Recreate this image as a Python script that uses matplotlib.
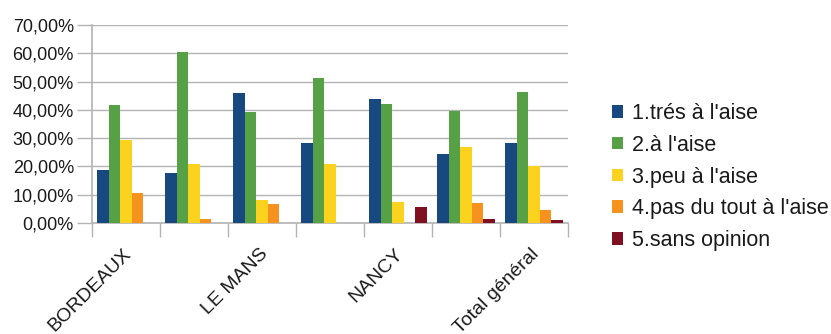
import matplotlib.pyplot as plt
import numpy as np
from matplotlib.ticker import FuncFormatter

plt.rcParams['font.family'] = ['Liberation Sans', 'DejaVu Sans']

# category tick labels (only every other one is shown in the original)
categories = ["BORDEAUX", "", "LE MANS", "", "NANCY", "", "Total général"]
series_names = ["1.trés à l'aise", "2.à l'aise", "3.peu à l'aise",
                "4.pas du tout à l'aise", "5.sans opinion"]

tres_aise = [18.6, 17.6, 45.8, 28.2, 43.7, 24.3, 28.2]
aise = [41.6, 60.3, 39.1, 51.1, 41.9, 39.5, 46.2]
peu_aise = [29.2, 20.7, 8.0, 20.7, 7.3, 26.7, 20.0]
pas_du_tout = [10.5, 1.3, 6.6, 0.0, 0.0, 7.0, 4.5]
sans_opinion = [0.0, 0.0, 0.0, 0.0, 5.5, 1.3, 1.0]

colors = ["#17487f", "#56a046", "#fbd31f", "#f6931e", "#7e1022"]

fig = plt.figure(figsize=(8.31, 3.34), dpi=100)
ax = fig.add_axes([92 / 831, 1 - 223 / 334, (568 - 92) / 831, 198 / 334])

x = np.arange(len(categories))
width = 0.17
all_series = [tres_aise, aise, peu_aise, pas_du_tout, sans_opinion]
for i, (vals, name) in enumerate(zip(all_series, series_names)):
    ax.bar(x - 2 * width + i * width, vals, width, color=colors[i], label=name, zorder=3)

ax.set_xlim(-0.5, len(categories) - 0.5)
ax.set_ylim(0, 70)
ax.set_yticks(np.arange(0, 71, 10))
ax.yaxis.set_major_formatter(FuncFormatter(lambda v, p: f"{v:.2f}%".replace('.', ',')))
ax.grid(axis='y', color='#b3b3b3', linewidth=1, zorder=0)

# boundary ticks on the x axis, labels at category centres
ax.set_xticks(np.arange(-0.5, len(categories)), minor=False)
ax.set_xticklabels([])
ax.tick_params(axis='x', which='major', length=10, color='#b3b3b3', width=1)
ax.set_xticks(x - 0.045, minor=True)
ax.set_xticklabels(categories, minor=True, rotation=45, ha='right',
                   rotation_mode='anchor', fontsize=14, color='#1a1a1a')
ax.tick_params(axis='x', which='minor', length=0, pad=16)
ax.tick_params(axis='y', length=11, color='#b3b3b3', width=1, labelsize=13,
               labelcolor='#1a1a1a', pad=2)

for s in ['top', 'right']:
    ax.spines[s].set_visible(False)
for s in ['left', 'bottom']:
    ax.spines[s].set_color('#b3b3b3')
    ax.spines[s].set_linewidth(1.2)

ax.legend(loc='center left', bbox_to_anchor=(612 / 831, 1 - 177 / 334),
          bbox_transform=fig.transFigure, frameon=False, fontsize=15.5,
          borderpad=0, borderaxespad=0,
          handlelength=0.52, handleheight=0.52, handletextpad=0.42,
          labelspacing=0.5, labelcolor='#1a1a1a')

fig.savefig("out.png", dpi=100)
